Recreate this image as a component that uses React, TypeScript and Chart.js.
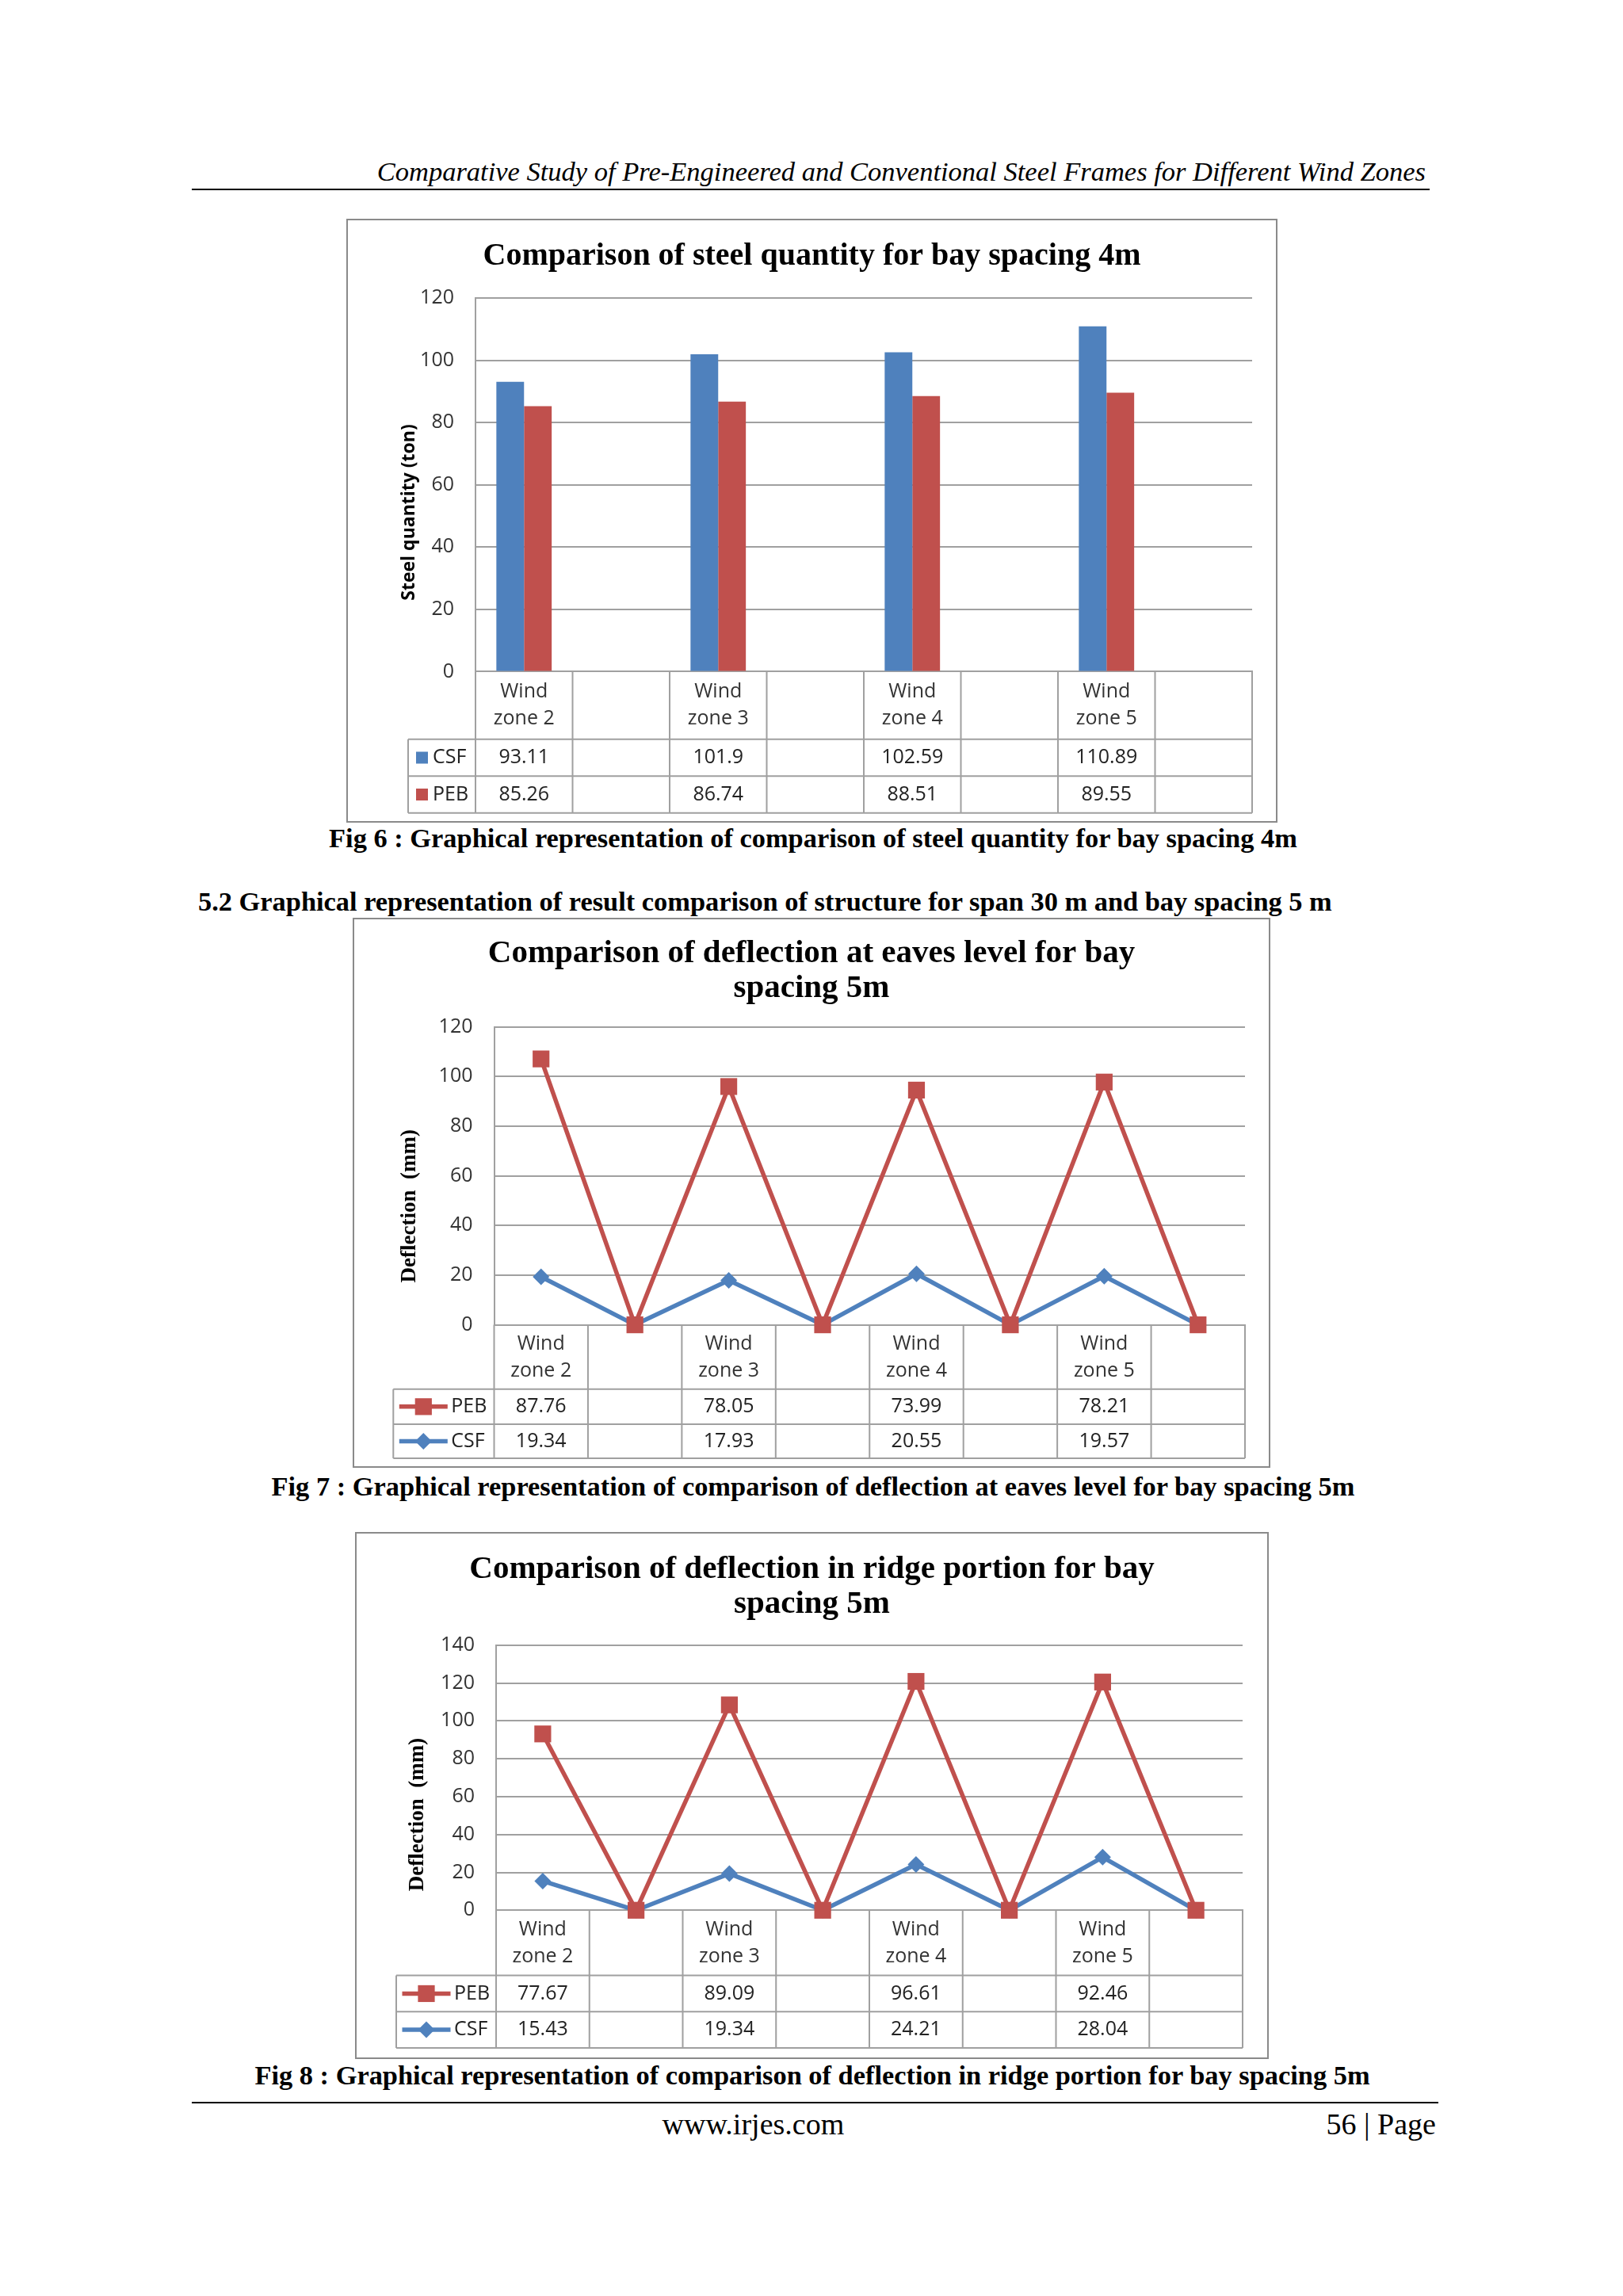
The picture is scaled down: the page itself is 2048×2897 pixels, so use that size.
import React, { useEffect, useRef } from "react";
import { Chart, registerables } from "chart.js";

Chart.register(...registerables);

// ---------- data ----------
const CATEGORIES = ["Wind zone 2", "", "Wind zone 3", "", "Wind zone 4", "", "Wind zone 5", ""];

const STEEL_CSF = [93.11, null, 101.9, null, 102.59, null, 110.89, null];
const STEEL_PEB = [85.26, null, 86.74, null, 88.51, null, 89.55, null];
const STEEL_Y_TICKS = [0, 20, 40, 60, 80, 100, 120];

const EAVES_PEB = [87.76, null, 78.05, null, 73.99, null, 78.21, null];
const EAVES_CSF = [19.34, null, 17.93, null, 20.55, null, 19.57, null];
const EAVES_Y_TICKS = [0, 20, 40, 60, 80, 100, 120];

const RIDGE_PEB = [77.67, null, 89.09, null, 96.61, null, 92.46, null];
const RIDGE_CSF = [15.43, null, 19.34, null, 24.21, null, 28.04, null];
const RIDGE_Y_TICKS = [0, 20, 40, 60, 80, 100, 120, 140];

// ---------- styles ----------
const GRID = "#a0a0a0";
const BLUE = "#4F81BD";
const RED = "#C0504D";
const SANS = "'Open Sans', 'DejaVu Sans', sans-serif";
const SERIF = "'Liberation Serif', 'Times New Roman', serif";

type Val = number | null;
type TableRow = { label: string; color: string; marker: "box" | "rect" | "diamond"; values: Val[] };
type TableCfg = {
  rows: TableRow[];
  legendLeft: number;
  catH: number;
  rowH: number[];
  yTitle: string;
  yTitleFont: string;
  yTitleX: number;
  yTitleY: number;
};

function splitLabel(c: string): string | string[] {
  if (!c) return "";
  const i = c.indexOf(" ");
  return [c.slice(0, i), c.slice(i + 1)];
}

function drawMarker(ctx: CanvasRenderingContext2D, kind: string, x: number, y: number, color: string) {
  ctx.fillStyle = color;
  if (kind === "rect") {
    const s = 15 * Math.SQRT1_2;
    ctx.fillRect(x - s, y - s, 2 * s, 2 * s);
  } else if (kind === "diamond") {
    const r = 10.5;
    ctx.beginPath();
    ctx.moveTo(x, y - r);
    ctx.lineTo(x + r, y);
    ctx.lineTo(x, y + r);
    ctx.lineTo(x - r, y);
    ctx.closePath();
    ctx.fill();
  }
}

function makeTablePlugin(cfg: TableCfg) {
  return {
    id: "dataTable",
    beforeDatasetsDraw(chart: any) {
      const ctx: CanvasRenderingContext2D = chart.ctx;
      const xs = chart.scales.x;
      const { right, bottom } = chart.chartArea;
      const n = chart.data.labels.length;
      const colW = xs.getPixelForValue(1) - xs.getPixelForValue(0);
      const y1 = bottom + cfg.catH;
      const y2 = y1 + cfg.rowH[0];
      const y3 = y2 + cfg.rowH[1];
      ctx.save();
      ctx.strokeStyle = GRID;
      ctx.lineWidth = 2;
      ctx.beginPath();
      for (const y of [y1, y2, y3]) {
        ctx.moveTo(cfg.legendLeft, y);
        ctx.lineTo(right, y);
      }
      for (let i = 0; i <= n; i++) {
        const x = i < n ? xs.getPixelForValue(i) - colW / 2 : xs.getPixelForValue(n - 1) + colW / 2;
        ctx.moveTo(x, bottom);
        ctx.lineTo(x, y3);
      }
      ctx.moveTo(cfg.legendLeft, y1);
      ctx.lineTo(cfg.legendLeft, y3);
      ctx.stroke();

      ctx.font = `25px ${SANS}`;
      ctx.textBaseline = "middle";
      cfg.rows.forEach((row, r) => {
        const top = r === 0 ? y1 : y2;
        const cy = top + cfg.rowH[r] / 2;
        ctx.fillStyle = "#222";
        ctx.textAlign = "center";
        row.values.forEach((v, i) => {
          if (v == null) return;
          ctx.fillText(String(v), xs.getPixelForValue(i), cy);
        });
        const lx = cfg.legendLeft;
        let tx: number;
        if (row.marker === "box") {
          ctx.fillStyle = row.color;
          ctx.fillRect(lx + 10, cy - 7.5, 15, 15);
          tx = lx + 31;
        } else {
          ctx.strokeStyle = row.color;
          ctx.lineWidth = 5.5;
          ctx.beginPath();
          ctx.moveTo(lx + 7.5, cy);
          ctx.lineTo(lx + 68.5, cy);
          ctx.stroke();
          drawMarker(ctx, row.marker, lx + 38, cy, row.color);
          tx = lx + 73;
        }
        ctx.fillStyle = "#222";
        ctx.textAlign = "left";
        ctx.fillText(row.label, tx, cy);
      });

      ctx.save();
      ctx.translate(cfg.yTitleX, cfg.yTitleY);
      ctx.rotate(-Math.PI / 2);
      ctx.font = cfg.yTitleFont;
      ctx.textAlign = "center";
      ctx.textBaseline = "middle";
      ctx.fillStyle = "#000";
      ctx.fillText(cfg.yTitle, 0, 0);
      ctx.restore();
      ctx.restore();
    },
  };
}

function baseOptions(p: {
  title: string[];
  titleSize: number;
  titlePad: { top: number; bottom: number };
  yTicks: number[];
  yW: number;
  xH: number;
  padRight: number;
  xPad: number;
}): any {
  return {
    responsive: true,
    maintainAspectRatio: false,
    animation: false,
    layout: { padding: { left: p.padRight, right: p.padRight, top: 0, bottom: 0 } },
    plugins: {
      legend: { display: false },
      tooltip: { enabled: false },
      title: {
        display: true,
        text: p.title,
        color: "#000",
        font: { family: SERIF, size: p.titleSize, weight: "bold", lineHeight: 44 / p.titleSize },
        padding: p.titlePad,
      },
    },
    scales: {
      x: {
        offset: true,
        grid: { display: false, drawTicks: false, offset: true },
        border: { display: true, color: GRID, width: 2 },
        ticks: {
          autoSkip: false,
          maxRotation: 0,
          minRotation: 0,
          padding: p.xPad,
          color: "#333",
          font: { family: SANS, size: 25, lineHeight: 34 / 25 },
        },
        afterFit: (s: any) => {
          s.height = p.xH;
        },
      },
      y: {
        min: p.yTicks[0],
        max: p.yTicks[p.yTicks.length - 1],
        ticks: {
          stepSize: p.yTicks[1] - p.yTicks[0],
          padding: 27,
          color: "#333",
          font: { family: SANS, size: 25 },
        },
        grid: { color: GRID, lineWidth: 2, drawTicks: false },
        border: { display: true, color: GRID, width: 2 },
        afterFit: (s: any) => {
          s.width = p.yW - p.padRight;
        },
      },
    },
  };
}

const asZero = (a: Val[]) => a.map((v) => (v == null ? 0 : v));
const stackOn = (top: Val[], base: Val[]) => top.map((v, i) => (v == null ? 0 : v) + (base[i] == null ? 0 : (base[i] as number)));

function lineDatasets(peb: Val[], csf: Val[]) {
  const common = {
    borderWidth: 5.5,
    pointBorderWidth: 0,
    tension: 0,
    clip: false,
    borderJoinStyle: "round",
    borderCapStyle: "round",
  };
  return [
    {
      label: "PEB",
      data: stackOn(peb, csf),
      borderColor: RED,
      backgroundColor: RED,
      pointBackgroundColor: RED,
      pointStyle: "rect",
      pointRadius: 15,
      ...common,
    },
    {
      label: "CSF",
      data: asZero(csf),
      borderColor: BLUE,
      backgroundColor: BLUE,
      pointBackgroundColor: BLUE,
      pointStyle: "rectRot",
      pointRadius: 10.5,
      ...common,
    },
  ];
}

function buildSteel(): any {
  const cfg: TableCfg = {
    rows: [
      { label: "CSF", color: BLUE, marker: "box", values: STEEL_CSF },
      { label: "PEB", color: RED, marker: "box", values: STEEL_PEB },
    ],
    legendLeft: 76,
    catH: 85.3,
    rowH: [46.6, 46.4],
    yTitle: "Steel quantity (ton)",
    yTitleFont: `bold 23px ${SANS}`,
    yTitleX: 77,
    yTitleY: 368.5,
  };
  return {
    type: "bar",
    data: {
      labels: CATEGORIES.map(splitLabel),
      datasets: [
        { label: "CSF", data: STEEL_CSF, backgroundColor: BLUE, categoryPercentage: 0.57, barPercentage: 1 },
        { label: "PEB", data: STEEL_PEB, backgroundColor: RED, categoryPercentage: 0.57, barPercentage: 1 },
      ],
    },
    options: baseOptions({
      title: ["Comparison of steel quantity for bay spacing 4m"],
      titleSize: 40,
      titlePad: { top: 23.5, bottom: 30.5 },
      yTicks: STEEL_Y_TICKS,
      yW: 161,
      xH: 188.6,
      padRight: 30,
      xPad: 8,
    }),
    plugins: [makeTablePlugin(cfg)],
  };
}

function buildEaves(): any {
  const cfg: TableCfg = {
    rows: [
      { label: "PEB", color: RED, marker: "rect", values: EAVES_PEB },
      { label: "CSF", color: BLUE, marker: "diamond", values: EAVES_CSF },
    ],
    legendLeft: 49.3,
    catH: 81.1,
    rowH: [44.3, 43],
    yTitle: "Deflection  (mm)",
    yTitleFont: `bold 27px ${SERIF}`,
    yTitleX: 70,
    yTitleY: 361.7,
  };
  return {
    type: "line",
    data: { labels: CATEGORIES.map(splitLabel), datasets: lineDatasets(EAVES_PEB, EAVES_CSF) },
    options: baseOptions({
      title: ["Comparison of deflection at eaves level for bay", "spacing 5m"],
      titleSize: 41,
      titlePad: { top: 21.2, bottom: 26.5 },
      yTicks: EAVES_Y_TICKS,
      yW: 176.5,
      xH: 178.4,
      padRight: 30,
      xPad: 7,
    }),
    plugins: [makeTablePlugin(cfg)],
  };
}

function buildRidge(): any {
  const cfg: TableCfg = {
    rows: [
      { label: "PEB", color: RED, marker: "rect", values: RIDGE_PEB },
      { label: "CSF", color: BLUE, marker: "diamond", values: RIDGE_CSF },
    ],
    legendLeft: 50,
    catH: 82.3,
    rowH: [45.7, 45.6],
    yTitle: "Deflection  (mm)",
    yTitleFont: `bold 27px ${SERIF}`,
    yTitleX: 77,
    yTitleY: 354.5,
  };
  return {
    type: "line",
    data: { labels: CATEGORIES.map(splitLabel), datasets: lineDatasets(RIDGE_PEB, RIDGE_CSF) },
    options: baseOptions({
      title: ["Comparison of deflection in ridge portion for bay", "spacing 5m"],
      titleSize: 41,
      titlePad: { top: 23, bottom: 29.7 },
      yTicks: RIDGE_Y_TICKS,
      yW: 176,
      xH: 185.7,
      padRight: 31,
      xPad: 8,
    }),
    plugins: [makeTablePlugin(cfg)],
  };
}

function ChartBox(props: { x: number; y: number; w: number; h: number; build: () => any }) {
  const ref = useRef<HTMLCanvasElement>(null);
  useEffect(() => {
    const chart = new Chart(ref.current as HTMLCanvasElement, props.build());
    return () => chart.destroy();
  }, []);
  return (
    <div
      style={{
        position: "absolute",
        left: props.x,
        top: props.y,
        width: props.w,
        height: props.h,
        border: "2px solid #8a8a8a",
        boxSizing: "border-box",
        background: "#fff",
      }}
    >
      <div style={{ position: "relative", width: props.w - 4, height: props.h - 4 }}>
        <canvas ref={ref} />
      </div>
    </div>
  );
}

const txt = (style: React.CSSProperties): React.CSSProperties => ({
  position: "absolute",
  whiteSpace: "pre",
  fontFamily: SERIF,
  color: "#000",
  lineHeight: 1,
  margin: 0,
  ...style,
});

export default function App() {
  return (
    <div style={{ position: "absolute", left: 0, top: 0, width: 2048, height: 2897, background: "#fff" }}>
      <div style={txt({ right: 249, top: 198.6, fontSize: 34.5, fontStyle: "italic" })}>
        Comparative Study of Pre-Engineered and Conventional Steel Frames for Different Wind Zones
      </div>
      <div style={{ position: "absolute", left: 241.5, top: 238.3, width: 1562.5, height: 2, background: "#000" }} />

      <ChartBox x={437} y={276} w={1175} h={762} build={buildSteel} />
      <div style={txt({ left: 26, width: 2000, textAlign: "center", top: 1040.2, fontSize: 34.4, fontWeight: "bold" })}>
        Fig 6 : Graphical representation of comparison of steel quantity for bay spacing 4m
      </div>

      <div style={txt({ left: 250, top: 1120, fontSize: 34.4, fontWeight: "bold" })}>
        5.2 Graphical representation of result comparison of structure for span 30 m and bay spacing 5 m
      </div>

      <ChartBox x={445} y={1158} w={1158} h={694} build={buildEaves} />
      <div style={txt({ left: 26, width: 2000, textAlign: "center", top: 1857.9, fontSize: 34.4, fontWeight: "bold" })}>
        Fig 7 : Graphical representation of comparison of deflection at eaves level for bay spacing 5m
      </div>

      <ChartBox x={448} y={1933} w={1153} h={665} build={buildRidge} />
      <div style={txt({ left: 25, width: 2000, textAlign: "center", top: 2600.7, fontSize: 34.4, fontWeight: "bold" })}>
        Fig 8 : Graphical representation of comparison of deflection in ridge portion for bay spacing 5m
      </div>

      <div style={{ position: "absolute", left: 241.5, top: 2652.3, width: 1573, height: 2, background: "#000" }} />
      <div style={txt({ left: 835.5, top: 2661, fontSize: 38 })}>www.irjes.com</div>
      <div style={txt({ right: 236, top: 2661, fontSize: 38 })}>56 | Page</div>
    </div>
  );
}
